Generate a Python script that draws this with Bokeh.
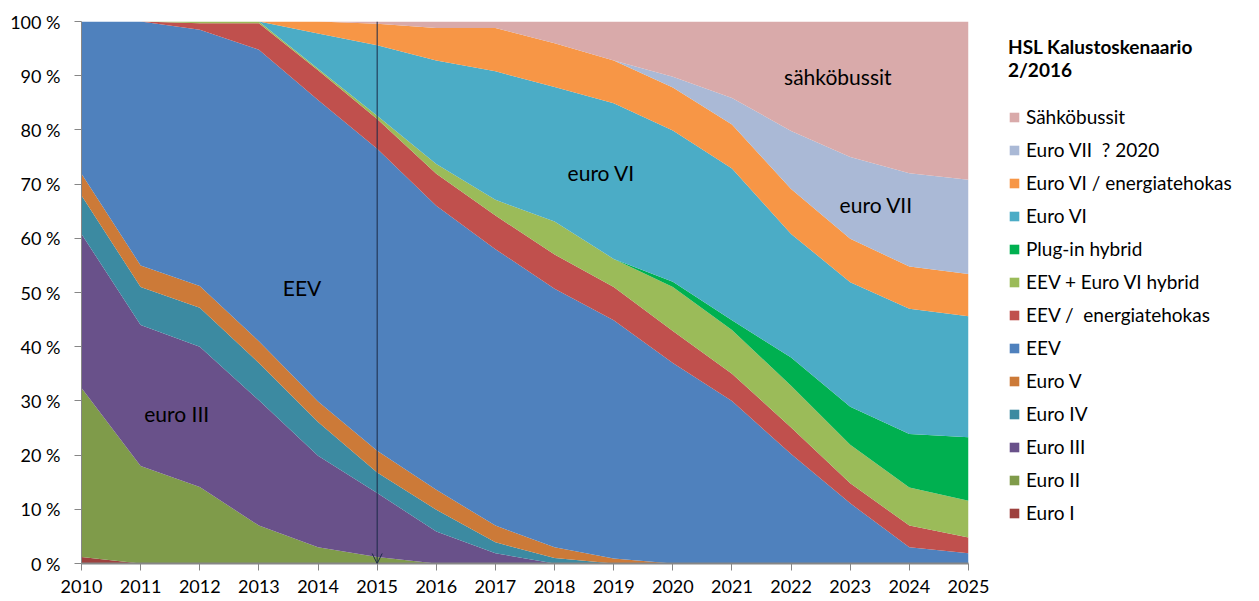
from bokeh.plotting import figure
from bokeh.models import (ColumnDataSource, Range1d, FixedTicker, Legend, LegendItem,
                          Label, Arrow, OpenHead)
from bokeh.embed import file_html
from bokeh.resources import INLINE

years = list(range(2010, 2026))

# layer values (% of fleet), bottom to top
euro_i        = [1.2, 0, 0, 0, 0, 0, 0, 0, 0, 0, 0, 0, 0, 0, 0, 0]
euro_ii       = [31.2, 18.0, 14.1, 7.0, 3.0, 1.2, 0, 0, 0, 0, 0, 0, 0, 0, 0, 0]
euro_iii      = [28.4, 26.0, 25.9, 23.1, 16.9, 11.8, 5.9, 1.9, 0, 0, 0, 0, 0, 0, 0, 0]
euro_iv       = [7.1, 7.0, 7.2, 6.9, 6.2, 3.8, 4.0, 2.0, 1.0, 0, 0, 0, 0, 0, 0, 0]
euro_v        = [4.0, 4.0, 4.0, 4.0, 3.8, 4.0, 3.7, 3.1, 2.0, 0.9, 0, 0, 0, 0, 0, 0]
eev           = [28.1, 45.0, 47.3, 53.8, 55.6, 55.7, 52.4, 51.0, 47.7, 44.0, 37.0, 30.0, 20.2, 11.1, 3.0, 1.9]
eev_energ     = [0, 0, 1.2, 4.9, 5.5, 5.5, 5.9, 6.2, 6.3, 6.1, 5.9, 5.0, 4.9, 3.7, 4.0, 2.9]
eev_vi_hybrid = [0, 0, 0.3, 0.3, 0.3, 0.6, 1.8, 2.9, 6.1, 5.2, 8.1, 8.1, 7.7, 7.1, 7.0, 6.8]
plugin_hybrid = [0, 0, 0, 0, 0, 0, 0, 0, 0, 0, 1.0, 1.8, 5.2, 7.0, 9.9, 11.7]
euro_vi       = [0, 0, 0, 0, 6.5, 13.0, 19.1, 23.7, 24.8, 28.7, 27.9, 28.0, 22.8, 23.0, 23.1, 22.3]
euro_vi_energ = [0, 0, 0, 0, 2.2, 4.0, 6.0, 8.0, 8.1, 7.9, 7.9, 8.1, 8.3, 8.0, 7.8, 7.8]
euro_vii      = [0, 0, 0, 0, 0, 0, 0, 0, 0, 0, 2.0, 4.9, 10.7, 15.1, 17.2, 17.4]
sahkobussit   = [0, 0, 0, 0, 0, 0.4, 1.2, 1.2, 4.0, 7.2, 10.2, 14.1, 20.2, 25.0, 28.0, 29.2]

series_names = ["Euro I", "Euro II", "Euro III", "Euro IV", "Euro V", "EEV",
                "EEV /  energiatehokas", "EEV + Euro VI hybrid", "Plug-in hybrid",
                "Euro VI", "Euro VI / energiatehokas", "Euro VII  ? 2020", "Sähköbussit"]
series_values = [euro_i, euro_ii, euro_iii, euro_iv, euro_v, eev, eev_energ,
                 eev_vi_hybrid, plugin_hybrid, euro_vi, euro_vi_energ, euro_vii, sahkobussit]
series_colors = ["#9E413E", "#7F9B4A", "#69518A", "#3C8AA1", "#CC7A38", "#4F81BD",
                 "#C0504D", "#9BBB59", "#00B050", "#4BACC6", "#F79646", "#AAB9D6", "#D9AAAA"]

y_ticks = list(range(0, 101, 10))
y_tick_labels = ["0 %", "10 %", "20 %", "30 %", "40 %", "50 %", "60 %", "70 %", "80 %", "90 %", "100 %"]
x_tick_labels = [str(y) for y in years]

legend_title = "HSL Kalustoskenaario\n2/2016"
area_labels = ["EEV", "euro III", "euro VI", "sähköbussit", "euro VII"]

FONT = "Lato"

data = {"year": years}
keys = []
for i, vals in enumerate(series_values):
    k = "s%d" % i
    keys.append(k)
    data[k] = vals
source = ColumnDataSource(data)

p = figure(frame_width=887, frame_height=542, output_backend="svg", toolbar_location=None,
           x_range=Range1d(2010, 2025), y_range=Range1d(0, 100),
           min_border_left=81, min_border_right=10, min_border_top=21, min_border_bottom=38)
p.outline_line_color = None
p.xgrid.grid_line_color = None
p.ygrid.grid_line_color = None
p.background_fill_color = "white"
p.border_fill_color = "white"

renderers = p.varea_stack(stackers=keys, x="year", color=series_colors, source=source)

# axes
p.yaxis.ticker = FixedTicker(ticks=y_ticks)
p.yaxis.major_label_overrides = {t: l for t, l in zip(y_ticks, y_tick_labels)}
p.xaxis.ticker = FixedTicker(ticks=years)
p.xaxis.major_label_overrides = {t: l for t, l in zip(years, x_tick_labels)}
for ax in (p.xaxis, p.yaxis):
    ax.axis_line_color = "#868686"
    ax.major_tick_line_color = "#868686"
    ax.minor_tick_line_color = None
    ax.major_tick_out = 7
    ax.major_tick_in = 0
    ax.major_label_text_font = FONT
    ax.major_label_text_font_size = "18px"
    ax.major_label_text_color = "black"
p.xaxis.axis_line_width = 2
p.xaxis.major_label_standoff = 9
p.yaxis.major_label_standoff = 14

# vertical arrow at 2015
p.add_layout(Arrow(end=OpenHead(size=10, line_color="#1B2A47", line_width=1),
                   x_start=2015, y_start=100, x_end=2015, y_end=0,
                   line_color="#1B2A47", line_width=1))

# in-area labels
label_pos = [(2013.73, 50.9), (2011.61, 27.6), (2018.79, 72.1), (2022.79, 89.8), (2023.44, 66.2)]
for txt, (lx, ly) in zip(area_labels, label_pos):
    p.add_layout(Label(x=lx, y=ly, text=txt, text_font=FONT, text_font_size="21px",
                       text_align="center", text_baseline="middle", text_color="black"))

items = [LegendItem(label=n, renderers=[r]) for n, r in zip(series_names, renderers)][::-1]
legend = Legend(items=items, location=(40, 39), orientation="vertical",
                title=legend_title, title_text_font=FONT, title_text_font_size="19px",
                title_text_font_style="bold", title_text_color="black", title_standoff=24,
                glyph_width=12, glyph_height=12, label_standoff=6, spacing=10,
                padding=0, margin=0, border_line_color=None, background_fill_alpha=0,
                label_text_font=FONT, label_text_font_size="19px", label_text_color="black")
p.add_layout(legend, "right")

open("out.html", "w").write(file_html(p, INLINE))
